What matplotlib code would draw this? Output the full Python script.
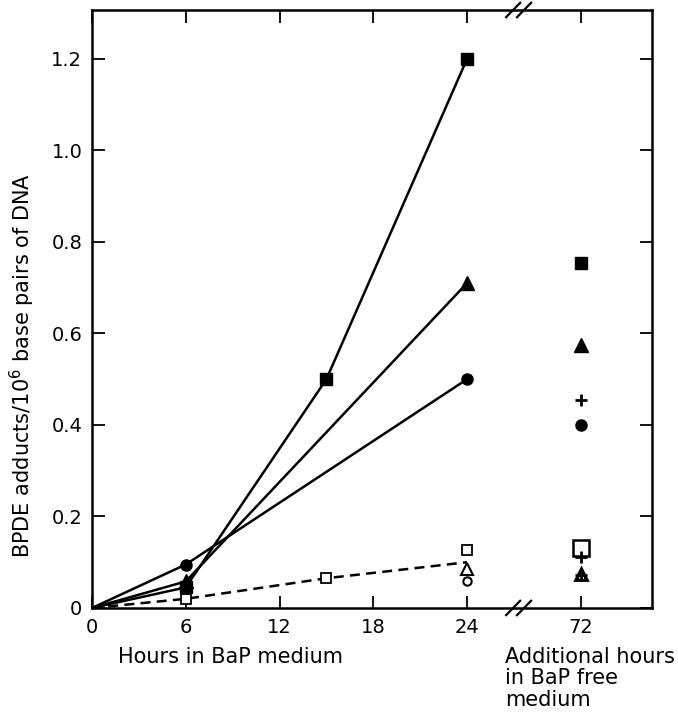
import numpy as np
import matplotlib
matplotlib.use('Agg')
import matplotlib.pyplot as plt
import matplotlib.transforms as mtransforms

# hours in BaP medium
hours_sq = [0, 6, 15, 24]
filled_square = [0, 0.045, 0.50, 1.20]
hours_tri = [0, 6, 24]
filled_triangle = [0, 0.058, 0.71]
hours_circ = [0, 6, 24]
filled_circle = [0, 0.095, 0.50]
hours_open = [0, 6, 15, 24]
open_square_line = [0, 0.02, 0.065, 0.10]
open_square_pts_x = [6, 15, 24]
open_square_pts = [0.02, 0.065, 0.127]
open_triangle_24 = 0.085
open_circle_24 = 0.06

# additional 72 h in BaP free medium
x72 = 31.3          # drawn position of the "72" column after the axis break
after_filled_square = 0.755
after_filled_triangle = 0.575
after_plus = [0.455, 0.112, 0.072]
after_filled_circle = 0.40
after_open_square = 0.132
after_open_triangle = 0.075
after_open_circle = 0.068

x_ticks = [0, 6, 12, 18, 24, x72]
x_ticklabels = ['0', '6', '12', '18', '24', '72']
y_ticks = [0, 0.2, 0.4, 0.6, 0.8, 1.0, 1.2]
y_ticklabels = ['0', '0.2', '0.4', '0.6', '0.8', '1.0', '1.2']

fig = plt.figure(figsize=(6.78, 7.14), dpi=100)
ax = fig.add_axes([0.1357, 0.1485, 0.8260, 0.8375])

lw = 1.8
ax.plot(hours_sq, filled_square, color='black', lw=lw)
ax.plot(hours_sq[1:], filled_square[1:], 's', color='black', ms=8)
ax.plot(hours_tri, filled_triangle, color='black', lw=lw)
ax.plot(hours_tri[1:], filled_triangle[1:], '^', color='black', ms=9.5)
ax.plot(hours_circ, filled_circle, color='black', lw=lw)
ax.plot(hours_circ[1:], filled_circle[1:], 'o', color='black', ms=8)
ax.plot(hours_open, open_square_line, color='black', lw=lw, ls=(0, (4, 2.5)))
ax.plot(open_square_pts_x, open_square_pts, 's', mfc='white', mec='black', mew=1.3, ms=6.5)
ax.plot([24], [open_triangle_24], '^', mfc='white', mec='black', mew=1.5, ms=8)
ax.plot([24], [open_circle_24], 'o', mfc='white', mec='black', mew=1.5, ms=6)

ax.plot([x72], [after_filled_square], 's', color='black', ms=8)
ax.plot([x72], [after_filled_triangle], '^', color='black', ms=9.5)
ax.plot([x72], [after_filled_circle], 'o', color='black', ms=8)
ax.plot([x72], [after_open_square], 's', mfc='white', mec='black', mew=1.8, ms=11)
ax.plot([x72], [after_open_triangle], '^', mfc='white', mec='black', mew=2, ms=9)
ax.plot([x72], [after_open_circle], 'o', mfc='white', mec='black', mew=1.5, ms=5)
ax.plot([x72] * len(after_plus), after_plus, '+', color='black', mew=2, ms=8)

ax.set_xlim(0, 35.84)
ax.set_ylim(0, 1.307)
ax.set_xticks(x_ticks)
ax.set_xticklabels(x_ticklabels)
ax.set_yticks(y_ticks)
ax.set_yticklabels(y_ticklabels)
ax.tick_params(direction='in', length=9, width=1.3, top=True, right=True,
               labelsize=14)
ax.tick_params(axis='x', pad=7)
ax.tick_params(axis='y', pad=7)
for s in ax.spines.values():
    s.set_linewidth(1.8)

# axis break marks
brk = 27.3
trans = mtransforms.blended_transform_factory(ax.transData, ax.transAxes)
for yax in (0, 1):
    for dx in (-0.35, 0.35):
        ax.plot([brk + dx - 0.45, brk + dx + 0.45], [yax - 0.012, yax + 0.012],
                color='black', lw=1.6, transform=trans, clip_on=False)

fig.text(22 / 678, 1 - 365 / 714, 'BPDE adducts/10$^6$ base pairs of DNA',
         fontsize=15, rotation=90, ha='center', va='center')
fig.text(118 / 678, 1 - 657 / 714, 'Hours in BaP medium', fontsize=15,
         ha='left', va='center')
fig.text(505 / 678, 1 - 647 / 714, 'Additional hours\nin BaP free\nmedium',
         fontsize=15, ha='left', va='top', linespacing=1.08)

fig.savefig('out.png', dpi=100)
